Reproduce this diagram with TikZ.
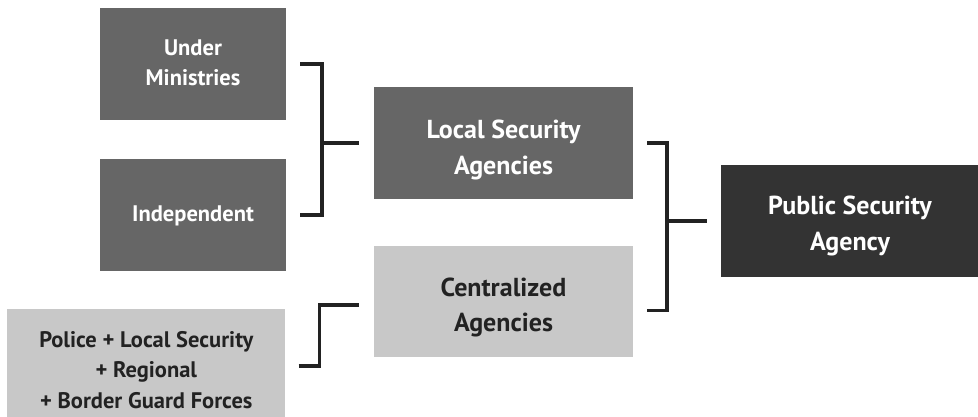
\documentclass[tikz,border=0pt]{standalone}
\usepackage{fontspec}
\setmainfont{PT Sans}
\usetikzlibrary{calc}
\definecolor{dgray}{HTML}{666666}
\definecolor{lgray}{HTML}{C8C8C8}
\definecolor{xdark}{HTML}{333333}
\definecolor{lnc}{HTML}{222222}
\tikzset{
  box/.style={rectangle, inner sep=0pt},
  darkbox/.style={box, fill=dgray},
  lightbox/.style={box, fill=lgray},
  blackbox/.style={box, fill=xdark},
  smalltxt/.style={inner sep=0pt, align=center, label distance=0pt, font=\fontsize{22.5}{30.5}\selectfont\bfseries},
  largetxt/.style={inner sep=0pt, align=center, label distance=0pt, font=\fontsize{26}{35.5}\selectfont\bfseries},
  wtxt/.style={text=white},
  ktxt/.style={text=lnc},
  brk/.style={draw=lnc, line width=3.5pt, line join=miter}
}
\begin{document}
\begin{tikzpicture}[x=1pt,y=-1pt]
\useasboundingbox (0,0) rectangle (978,417);
\node[darkbox, minimum width=186pt, minimum height=112pt,
  label={[smalltxt, wtxt, yshift=1pt]center:Under\\Ministries}] (um) at (193,64) {};
\node[darkbox, minimum width=186pt, minimum height=112pt,
  label={[smalltxt, wtxt, yshift=-1pt]center:Independent}] (ind) at (193,215) {};
\node[darkbox, minimum width=259pt, minimum height=112pt,
  label={[largetxt, wtxt, yshift=-7pt]center:Local Security\\Agencies}] (lsa) at (503.5,143) {};
\node[lightbox, minimum width=259pt, minimum height=111pt,
  label={[largetxt, ktxt, yshift=-6pt]center:Centralized\\Agencies}] (cen) at (503.5,301.5) {};
\node[lightbox, minimum width=278pt, minimum height=116pt,
  label={[smalltxt, ktxt, yshift=-3pt]center:Police + Local Security\\+ Regional\\+ Border Guard Forces}] (pol) at (146.3,367) {};
\node[blackbox, minimum width=258pt, minimum height=112pt,
  label={[largetxt, wtxt, yshift=-5pt]center:Public Security\\Agency}] (psa) at (850,221) {};
% bracket 1
\coordinate (b1a) at ($(um.east)+(14,0)$);
\coordinate (b1b) at ($(ind.east)+(14,0)$);
\coordinate (b1m) at ($(lsa.west)+(-52,0)$);
\coordinate (b1e) at ($(lsa.west)+(-15,0)$);
\draw[brk] (b1a) -- (b1m |- b1a) -- (b1m |- b1b) -- (b1b);
\draw[brk] (b1m) -- (b1e);
% bracket 2
\coordinate (b2a) at ($(lsa.east)+(14,0)$);
\coordinate (b2b) at ($(cen.east)+(14,9)$);
\coordinate (b2m) at ($(psa.west)+(-54,0)$);
\coordinate (b2e) at ($(psa.west)+(-14,0)$);
\draw[brk] (b2a) -- (b2m |- b2a) -- (b2m |- b2b) -- (b2b);
\draw[brk] (b2m) -- (b2e);
% bracket 3
\coordinate (b3a) at ($(pol.east)+(13,-1)$);
\coordinate (b3b) at ($(cen.west)+(-15,3.5)$);
\draw[brk] (b3a) -- ($(b3a)+(21,0)$) |- (b3b);
\end{tikzpicture}
\end{document}
